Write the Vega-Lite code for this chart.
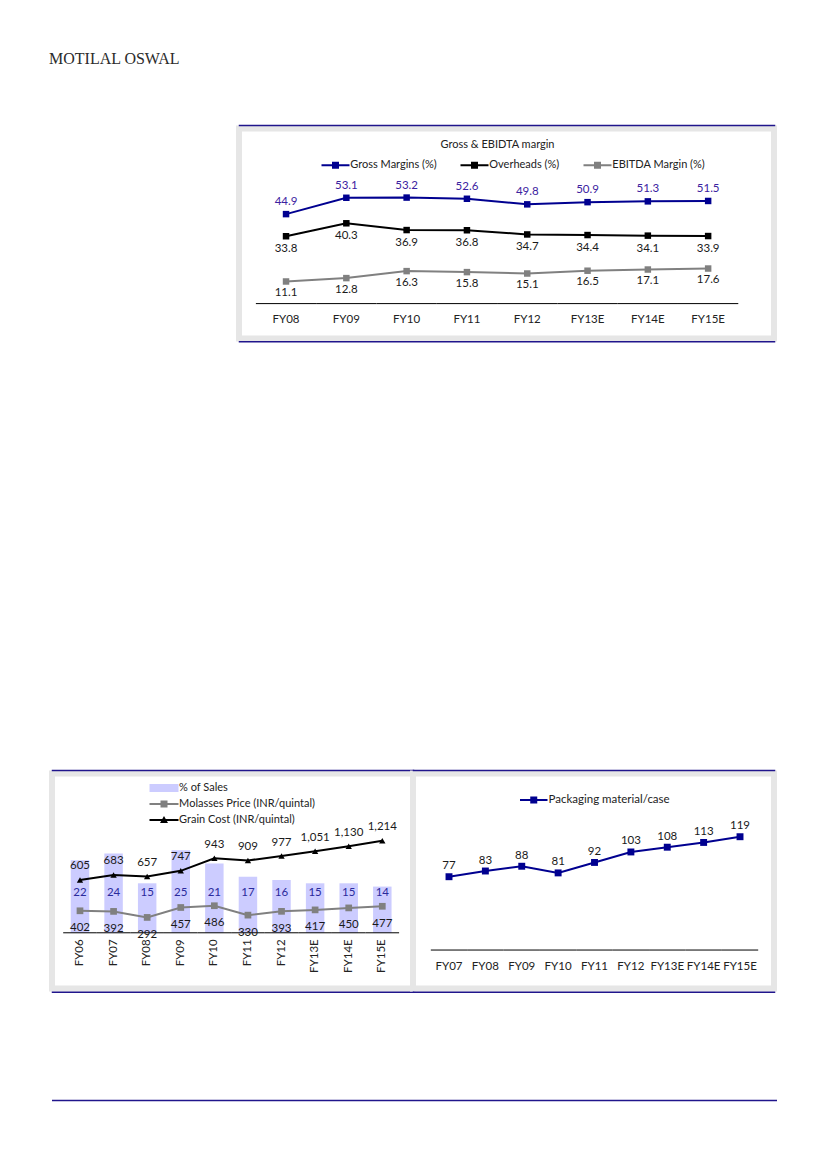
{
"$schema": "https://vega.github.io/schema/vega-lite/v6.json",
"background": "white",
"padding": {"left": 49, "top": 50.5, "right": 10, "bottom": 10},
"title": {"text": "MOTILAL OSWAL", "anchor": "start", "font": "Liberation Serif", "fontSize": 16, "fontWeight": "normal", "color": "#2b2b2b", "offset": 55.5, "dx": 0},
"datasets": {
 "margins": [
  {"fy": "FY08", "gross": 44.9, "over": 33.8, "ebitda": 11.1},
  {"fy": "FY09", "gross": 53.1, "over": 40.3, "ebitda": 12.8},
  {"fy": "FY10", "gross": 53.2, "over": 36.9, "ebitda": 16.3},
  {"fy": "FY11", "gross": 52.6, "over": 36.8, "ebitda": 15.8},
  {"fy": "FY12", "gross": 49.8, "over": 34.7, "ebitda": 15.1},
  {"fy": "FY13E", "gross": 50.9, "over": 34.4, "ebitda": 16.5},
  {"fy": "FY14E", "gross": 51.3, "over": 34.1, "ebitda": 17.1},
  {"fy": "FY15E", "gross": 51.5, "over": 33.9, "ebitda": 17.6}
 ],
 "costs": [
  {"fy": "FY06", "sales": 22, "molasses": 402, "grain": 605},
  {"fy": "FY07", "sales": 24, "molasses": 392, "grain": 683},
  {"fy": "FY08", "sales": 15, "molasses": 292, "grain": 657},
  {"fy": "FY09", "sales": 25, "molasses": 457, "grain": 747},
  {"fy": "FY10", "sales": 21, "molasses": 486, "grain": 943},
  {"fy": "FY11", "sales": 17, "molasses": 330, "grain": 909},
  {"fy": "FY12", "sales": 16, "molasses": 393, "grain": 977},
  {"fy": "FY13E", "sales": 15, "molasses": 417, "grain": 1051},
  {"fy": "FY14E", "sales": 15, "molasses": 450, "grain": 1130},
  {"fy": "FY15E", "sales": 14, "molasses": 477, "grain": 1214}
 ],
 "pack": [
  {"fy": "FY07", "cost": 77},
  {"fy": "FY08", "cost": 83},
  {"fy": "FY09", "cost": 88},
  {"fy": "FY10", "cost": 81},
  {"fy": "FY11", "cost": 92},
  {"fy": "FY12", "cost": 103},
  {"fy": "FY13E", "cost": 108},
  {"fy": "FY14E", "cost": 113},
  {"fy": "FY15E", "cost": 119}
 ],
 "none": []
},
"vconcat": [
 {
  "vconcat": [
   {
    "hconcat": [
     {"width": 187, "height": 210, "data": {"name": "none"}, "mark": "text", "encoding": {}},
     {
      "width": 535, "height": 210,
      "view": {"stroke": "#e6e6e6", "strokeWidth": 6, "fill": "#ffffff"},
      "title": {"text": "Gross & EBIDTA margin", "frame": "group", "anchor": "middle", "offset": -25, "dx": -9, "font": "Lato", "fontSize": 11, "fontWeight": "normal", "color": "#222222"},
      "data": {"name": "margins"},
      "resolve": {"axis": {"x": "independent"}},
      "layer": [
       {"mark": {"type": "rule", "color": "#000000", "strokeWidth": 1},
        "encoding": {
         "x": {"field": "fy", "type": "nominal", "sort": null, "bandPosition": 0, "scale": {"type": "band", "paddingInner": 0, "paddingOuter": 0.436, "align": 0.321}, "axis": {"orient": "bottom", "offset": -35, "domain": false, "ticks": false, "labelAngle": 0, "labelPadding": 10, "labelFont": "Lato", "labelFontSize": 11.5, "labelColor": "#222222", "title": null, "grid": false}},
         "x2": {"field": "fy", "bandPosition": 1},
         "y": {"datum": 0, "type": "quantitative", "scale": {"domain": [-17.51, 87.86], "zero": false, "nice": false}, "axis": null}}},
       {"transform": [{"fold": ["gross", "over", "ebitda"], "as": ["key", "val"]}],
        "mark": {"type": "line", "strokeWidth": 2},
        "encoding": {
         "x": {"field": "fy", "type": "nominal", "sort": null, "scale": {"type": "band", "paddingInner": 0, "paddingOuter": 0.436, "align": 0.321}, "axis": {"orient": "top", "offset": 3.5, "domain": true, "domainColor": "#20158c", "domainWidth": 1.5, "domainCap": "square", "ticks": false, "labels": false, "title": null, "grid": false}},
         "y": {"field": "val", "type": "quantitative", "scale": {"domain": [-17.51, 87.86], "zero": false, "nice": false}, "axis": null},
         "color": {"field": "key", "type": "nominal", "scale": {"domain": ["gross", "over", "ebitda"], "range": ["#000090", "#000000", "#808080"]},
          "legend": {"title": null, "orient": "none", "legendX": 82, "legendY": 31, "direction": "horizontal", "symbolSize": 100, "symbolOffset": 9, "symbolStrokeWidth": 0, "labelOffset": 9.3, "columnPadding": 23, "labelFont": "Lato", "labelFontSize": 11, "labelColor": "#222222", "padding": 0,
           "labelExpr": "datum.value == 'gross' ? 'Gross Margins (%)' : datum.value == 'over' ? 'Overheads (%)' : 'EBITDA Margin (%)'",
           "encode": {"symbols": {"update": {"shape": {"signal": "'M-2.8,-0.2H2.8V0.2H-2.8Z M-0.7,-0.7H0.7V0.7H-0.7Z'"}, "fill": {"scale": "color", "field": "value"}, "stroke": {"value": "transparent"}}}}}}}},
       {"transform": [{"fold": ["gross", "over", "ebitda"], "as": ["key", "val"]}],
        "mark": {"type": "point", "filled": true, "shape": "square", "size": 42, "opacity": 1},
        "encoding": {
         "x": {"field": "fy", "type": "nominal", "sort": null, "scale": {"type": "band", "paddingInner": 0, "paddingOuter": 0.436, "align": 0.321}, "axis": {"orient": "bottom", "offset": 2.7, "domain": true, "domainColor": "#20158c", "domainWidth": 1.5, "domainCap": "square", "ticks": false, "labels": false, "title": null, "grid": false}},
         "y": {"field": "val", "type": "quantitative", "scale": {"domain": [-17.51, 87.86], "zero": false, "nice": false}, "axis": null},
         "color": {"field": "key", "type": "nominal", "scale": {"domain": ["gross", "over", "ebitda"], "range": ["#000090", "#000000", "#808080"]},
          "legend": {"title": null, "orient": "none", "legendX": 82, "legendY": 31, "direction": "horizontal", "symbolSize": 100, "symbolOffset": 9, "symbolStrokeWidth": 0, "labelOffset": 9.3, "columnPadding": 23, "labelFont": "Lato", "labelFontSize": 11, "labelColor": "#222222", "padding": 0,
           "labelExpr": "datum.value == 'gross' ? 'Gross Margins (%)' : datum.value == 'over' ? 'Overheads (%)' : 'EBITDA Margin (%)'",
           "encode": {"symbols": {"update": {"shape": {"signal": "'M-2.8,-0.2H2.8V0.2H-2.8Z M-0.7,-0.7H0.7V0.7H-0.7Z'"}, "fill": {"scale": "color", "field": "value"}, "stroke": {"value": "transparent"}}}}}}}},
       {"mark": {"type": "text", "baseline": "middle", "dy": -12, "font": "Lato", "fontSize": 11.5, "color": "#3b22a0"},
        "encoding": {
         "x": {"field": "fy", "type": "nominal", "sort": null, "axis": null},
         "y": {"field": "gross", "type": "quantitative", "scale": {"domain": [-17.51, 87.86], "zero": false, "nice": false}, "axis": null},
         "text": {"field": "gross", "type": "quantitative", "format": ".1f"}}},
       {"mark": {"type": "text", "baseline": "middle", "dy": 13, "font": "Lato", "fontSize": 11.5, "color": "#1a1a1a"},
        "encoding": {
         "x": {"field": "fy", "type": "nominal", "sort": null, "axis": null},
         "y": {"field": "over", "type": "quantitative", "scale": {"domain": [-17.51, 87.86], "zero": false, "nice": false}, "axis": null},
         "text": {"field": "over", "type": "quantitative", "format": ".1f"}}},
       {"mark": {"type": "text", "baseline": "middle", "dy": 11.5, "font": "Lato", "fontSize": 11.5, "color": "#1a1a1a"},
        "encoding": {
         "x": {"field": "fy", "type": "nominal", "sort": null, "axis": null},
         "y": {"field": "ebitda", "type": "quantitative", "scale": {"domain": [-17.51, 87.86], "zero": false, "nice": false}, "axis": null},
         "text": {"field": "ebitda", "type": "quantitative", "format": ".1f"}}}
      ]
     }
    ],
    "spacing": 0, "bounds": "flush",
    "resolve": {"scale": {"color": "independent", "stroke": "independent"}, "legend": {"color": "independent", "stroke": "independent"}}
   },
   {
    "hconcat": [
     {
      "width": 361, "height": 215,
      "view": {"stroke": "#e6e6e6", "strokeWidth": 6, "fill": "#ffffff"},
      "data": {"name": "costs"},
      "resolve": {"scale": {"y": "independent"}, "axis": {"x": "independent", "y": "independent"}},
      "layer": [
       {"mark": {"type": "bar", "width": {"band": 0.55}},
        "encoding": {
         "x": {"field": "fy", "type": "nominal", "sort": null, "scale": {"type": "band", "paddingInner": 0, "paddingOuter": 0.3735, "align": 0.446}, "axis": {"orient": "bottom", "offset": -55.7, "domain": false, "ticks": false, "labelAngle": -90, "labelPadding": 6, "labelFont": "Lato", "labelFontSize": 11.5, "labelColor": "#222222", "title": null, "grid": false}},
         "y": {"field": "sales", "type": "quantitative", "scale": {"domain": [-16.88, 48.27], "zero": false, "nice": false}, "axis": null},
         "y2": {"datum": 0},
         "color": {"datum": "% of Sales", "type": "nominal", "scale": {"domain": ["% of Sales", "Molasses Price (INR/quintal)", "Grain Cost (INR/quintal)"], "range": ["#ccccff", "#808080", "#000000"]},
          "legend": {"title": null, "orient": "none", "legendX": 97, "legendY": 9, "direction": "vertical", "symbolSize": 100, "symbolOffset": 9.5, "symbolStrokeWidth": 0, "labelOffset": 9.6, "rowPadding": 4, "labelFont": "Lato", "labelFontSize": 11, "labelColor": "#222222", "padding": 0,
           "encode": {"symbols": {"update": {"shape": {"signal": "datum.value == '% of Sales' ? 'M-2.9,-0.8H2.9V0.8H-2.9Z' : datum.value == 'Grain Cost (INR/quintal)' ? 'M-2.9,-0.2H2.9V0.2H-2.9Z M0,-0.8L0.8,0.6H-0.8Z' : 'M-2.9,-0.2H2.9V0.2H-2.9Z M-0.7,-0.7H0.7V0.7H-0.7Z'"}}}}}}}},
       {"mark": {"type": "rule", "color": "#000000", "strokeWidth": 1},
        "encoding": {
         "x": {"field": "fy", "type": "nominal", "sort": null, "bandPosition": 0, "axis": null},
         "x2": {"field": "fy", "bandPosition": 1},
         "y": {"datum": 0, "type": "quantitative", "scale": {"domain": [-16.88, 48.27], "zero": false, "nice": false}, "axis": null}}},
       {"mark": {"type": "line", "strokeWidth": 2, "color": "#808080"},
        "encoding": {
         "x": {"field": "fy", "type": "nominal", "sort": null, "axis": {"orient": "top", "offset": 3.5, "domain": true, "domainColor": "#20158c", "domainWidth": 1.5, "domainCap": "square", "ticks": false, "labels": false, "title": null, "grid": false}},
         "y": {"field": "molasses", "type": "quantitative", "scale": {"domain": [-889, 2683], "zero": false, "nice": false}, "axis": null}}},
       {"mark": {"type": "point", "filled": true, "shape": "square", "size": 45, "opacity": 1},
        "encoding": {
         "x": {"field": "fy", "type": "nominal", "sort": null, "axis": {"orient": "bottom", "offset": 3.2, "domain": true, "domainColor": "#20158c", "domainWidth": 1.5, "domainCap": "square", "ticks": false, "labels": false, "title": null, "grid": false}},
         "y": {"field": "molasses", "type": "quantitative", "scale": {"domain": [-889, 2683], "zero": false, "nice": false}, "axis": null},
         "color": {"datum": "Molasses Price (INR/quintal)", "type": "nominal",
          "legend": {"title": null, "orient": "none", "legendX": 97, "legendY": 9, "direction": "vertical", "symbolSize": 100, "symbolOffset": 9.5, "symbolStrokeWidth": 0, "labelOffset": 9.6, "rowPadding": 4, "labelFont": "Lato", "labelFontSize": 11, "labelColor": "#222222", "padding": 0,
           "encode": {"symbols": {"update": {"shape": {"signal": "datum.value == '% of Sales' ? 'M-2.9,-0.8H2.9V0.8H-2.9Z' : datum.value == 'Grain Cost (INR/quintal)' ? 'M-2.9,-0.2H2.9V0.2H-2.9Z M0,-0.8L0.8,0.6H-0.8Z' : 'M-2.9,-0.2H2.9V0.2H-2.9Z M-0.7,-0.7H0.7V0.7H-0.7Z'"}}}}}}}},
       {"mark": {"type": "line", "strokeWidth": 2, "color": "#000000"},
        "encoding": {
         "x": {"field": "fy", "type": "nominal", "sort": null, "axis": null},
         "y": {"field": "grain", "type": "quantitative", "scale": {"domain": [-1086, 2263], "zero": false, "nice": false}, "axis": null}}},
       {"mark": {"type": "point", "filled": true, "shape": "triangle-up", "size": 40, "opacity": 1},
        "encoding": {
         "x": {"field": "fy", "type": "nominal", "sort": null, "axis": null},
         "y": {"field": "grain", "type": "quantitative", "scale": {"domain": [-1086, 2263], "zero": false, "nice": false}, "axis": null},
         "color": {"datum": "Grain Cost (INR/quintal)", "type": "nominal",
          "legend": {"title": null, "orient": "none", "legendX": 97, "legendY": 9, "direction": "vertical", "symbolSize": 100, "symbolOffset": 9.5, "symbolStrokeWidth": 0, "labelOffset": 9.6, "rowPadding": 4, "labelFont": "Lato", "labelFontSize": 11, "labelColor": "#222222", "padding": 0,
           "encode": {"symbols": {"update": {"shape": {"signal": "datum.value == '% of Sales' ? 'M-2.9,-0.8H2.9V0.8H-2.9Z' : datum.value == 'Grain Cost (INR/quintal)' ? 'M-2.9,-0.2H2.9V0.2H-2.9Z M0,-0.8L0.8,0.6H-0.8Z' : 'M-2.9,-0.2H2.9V0.2H-2.9Z M-0.7,-0.7H0.7V0.7H-0.7Z'"}}}}}}}},
       {"mark": {"type": "text", "baseline": "middle", "font": "Lato", "fontSize": 11.5, "color": "#2a2a9c"},
        "encoding": {
         "x": {"field": "fy", "type": "nominal", "sort": null, "axis": null},
         "y": {"datum": 12, "type": "quantitative", "scale": {"domain": [-16.88, 48.27], "zero": false, "nice": false}, "axis": null},
         "text": {"field": "sales", "type": "quantitative", "format": "d"}}},
       {"mark": {"type": "text", "baseline": "middle", "dy": 17.5, "font": "Lato", "fontSize": 11.5, "color": "#1a1a1a"},
        "encoding": {
         "x": {"field": "fy", "type": "nominal", "sort": null, "axis": null},
         "y": {"field": "molasses", "type": "quantitative", "scale": {"domain": [-889, 2683], "zero": false, "nice": false}, "axis": null},
         "text": {"field": "molasses", "type": "quantitative", "format": ",d"}}},
       {"mark": {"type": "text", "baseline": "middle", "dy": -13.5, "font": "Lato", "fontSize": 11.5, "color": "#1a1a1a"},
        "encoding": {
         "x": {"field": "fy", "type": "nominal", "sort": null, "axis": null},
         "y": {"field": "grain", "type": "quantitative", "scale": {"domain": [-1086, 2263], "zero": false, "nice": false}, "axis": null},
         "text": {"field": "grain", "type": "quantitative", "format": ",d"}}}
      ]
     },
     {
      "width": 361, "height": 215,
      "view": {"stroke": "#e6e6e6", "strokeWidth": 6, "fill": "#ffffff"},
      "data": {"name": "pack"},
      "resolve": {"axis": {"x": "independent"}},
      "layer": [
       {"mark": {"type": "rule", "color": "#000000", "strokeWidth": 1},
        "encoding": {
         "x": {"field": "fy", "type": "nominal", "sort": null, "bandPosition": 0, "scale": {"type": "band", "paddingInner": 0, "paddingOuter": 0.462, "align": 0.53}, "axis": {"orient": "bottom", "offset": -38.5, "domain": false, "ticks": false, "labelAngle": 0, "labelPadding": 10, "labelFont": "Lato", "labelFontSize": 11.5, "labelColor": "#222222", "title": null, "grid": false}},
         "x2": {"field": "fy", "bandPosition": 1},
         "y": {"datum": 0, "type": "quantitative", "scale": {"domain": [-40.4, 185.4], "zero": false, "nice": false}, "axis": null}}},
       {"mark": {"type": "line", "strokeWidth": 2},
        "encoding": {
         "x": {"field": "fy", "type": "nominal", "sort": null, "axis": {"orient": "top", "offset": 3.5, "domain": true, "domainColor": "#20158c", "domainWidth": 1.5, "domainCap": "square", "ticks": false, "labels": false, "title": null, "grid": false}},
         "y": {"field": "cost", "type": "quantitative", "scale": {"domain": [-40.4, 185.4], "zero": false, "nice": false}, "axis": null},
         "color": {"datum": "Packaging material/case", "type": "nominal", "scale": {"domain": ["Packaging material/case"], "range": ["#000090"]},
          "legend": {"title": null, "orient": "none", "legendX": 106.3, "legendY": 20.7, "symbolSize": 100, "symbolOffset": 8.7, "symbolStrokeWidth": 0, "labelOffset": 9, "labelFont": "Lato", "labelFontSize": 11.5, "labelColor": "#222222", "padding": 0,
           "encode": {"symbols": {"update": {"shape": {"signal": "'M-2.75,-0.2H2.75V0.2H-2.75Z M-0.7,-0.7H0.7V0.7H-0.7Z'"}, "fill": {"scale": "color", "field": "value"}, "stroke": {"value": "transparent"}}}}}}}},
       {"mark": {"type": "point", "filled": true, "shape": "square", "size": 48, "opacity": 1},
        "encoding": {
         "x": {"field": "fy", "type": "nominal", "sort": null, "axis": {"orient": "bottom", "offset": 3.2, "domain": true, "domainColor": "#20158c", "domainWidth": 1.5, "domainCap": "square", "ticks": false, "labels": false, "title": null, "grid": false}},
         "y": {"field": "cost", "type": "quantitative", "scale": {"domain": [-40.4, 185.4], "zero": false, "nice": false}, "axis": null},
         "color": {"datum": "Packaging material/case", "type": "nominal",
          "legend": {"title": null, "orient": "none", "legendX": 106.3, "legendY": 20.7, "symbolSize": 100, "symbolOffset": 8.7, "symbolStrokeWidth": 0, "labelOffset": 9, "labelFont": "Lato", "labelFontSize": 11.5, "labelColor": "#222222", "padding": 0,
           "encode": {"symbols": {"update": {"shape": {"signal": "'M-2.75,-0.2H2.75V0.2H-2.75Z M-0.7,-0.7H0.7V0.7H-0.7Z'"}, "fill": {"scale": "color", "field": "value"}, "stroke": {"value": "transparent"}}}}}}}},
       {"mark": {"type": "text", "baseline": "middle", "dy": -10.5, "font": "Lato", "fontSize": 11.5, "color": "#1a1a1a"},
        "encoding": {
         "x": {"field": "fy", "type": "nominal", "sort": null, "axis": null},
         "y": {"field": "cost", "type": "quantitative", "scale": {"domain": [-40.4, 185.4], "zero": false, "nice": false}, "axis": null},
         "text": {"field": "cost", "type": "quantitative", "format": "d"}}}
      ]
     }
    ],
    "spacing": 0, "bounds": "flush",
    "resolve": {"scale": {"color": "independent", "stroke": "independent"}, "legend": {"color": "independent", "stroke": "independent"}}
   }
  ],
  "spacing": 645, "bounds": "flush",
  "resolve": {"scale": {"color": "independent", "stroke": "independent"}, "legend": {"color": "independent", "stroke": "independent"}}
 },
 {"width": 725, "height": 1.5, "data": {"name": "none"}, "mark": "text", "encoding": {}, "view": {"fill": "#20158c", "stroke": null}}
],
"spacing": 971.3, "bounds": "flush",
"resolve": {"scale": {"color": "independent", "stroke": "independent"}, "legend": {"color": "independent", "stroke": "independent"}},
"config": {
 "view": {"stroke": null},
 "font": "Lato",
 "axis": {"grid": false}
}
}
